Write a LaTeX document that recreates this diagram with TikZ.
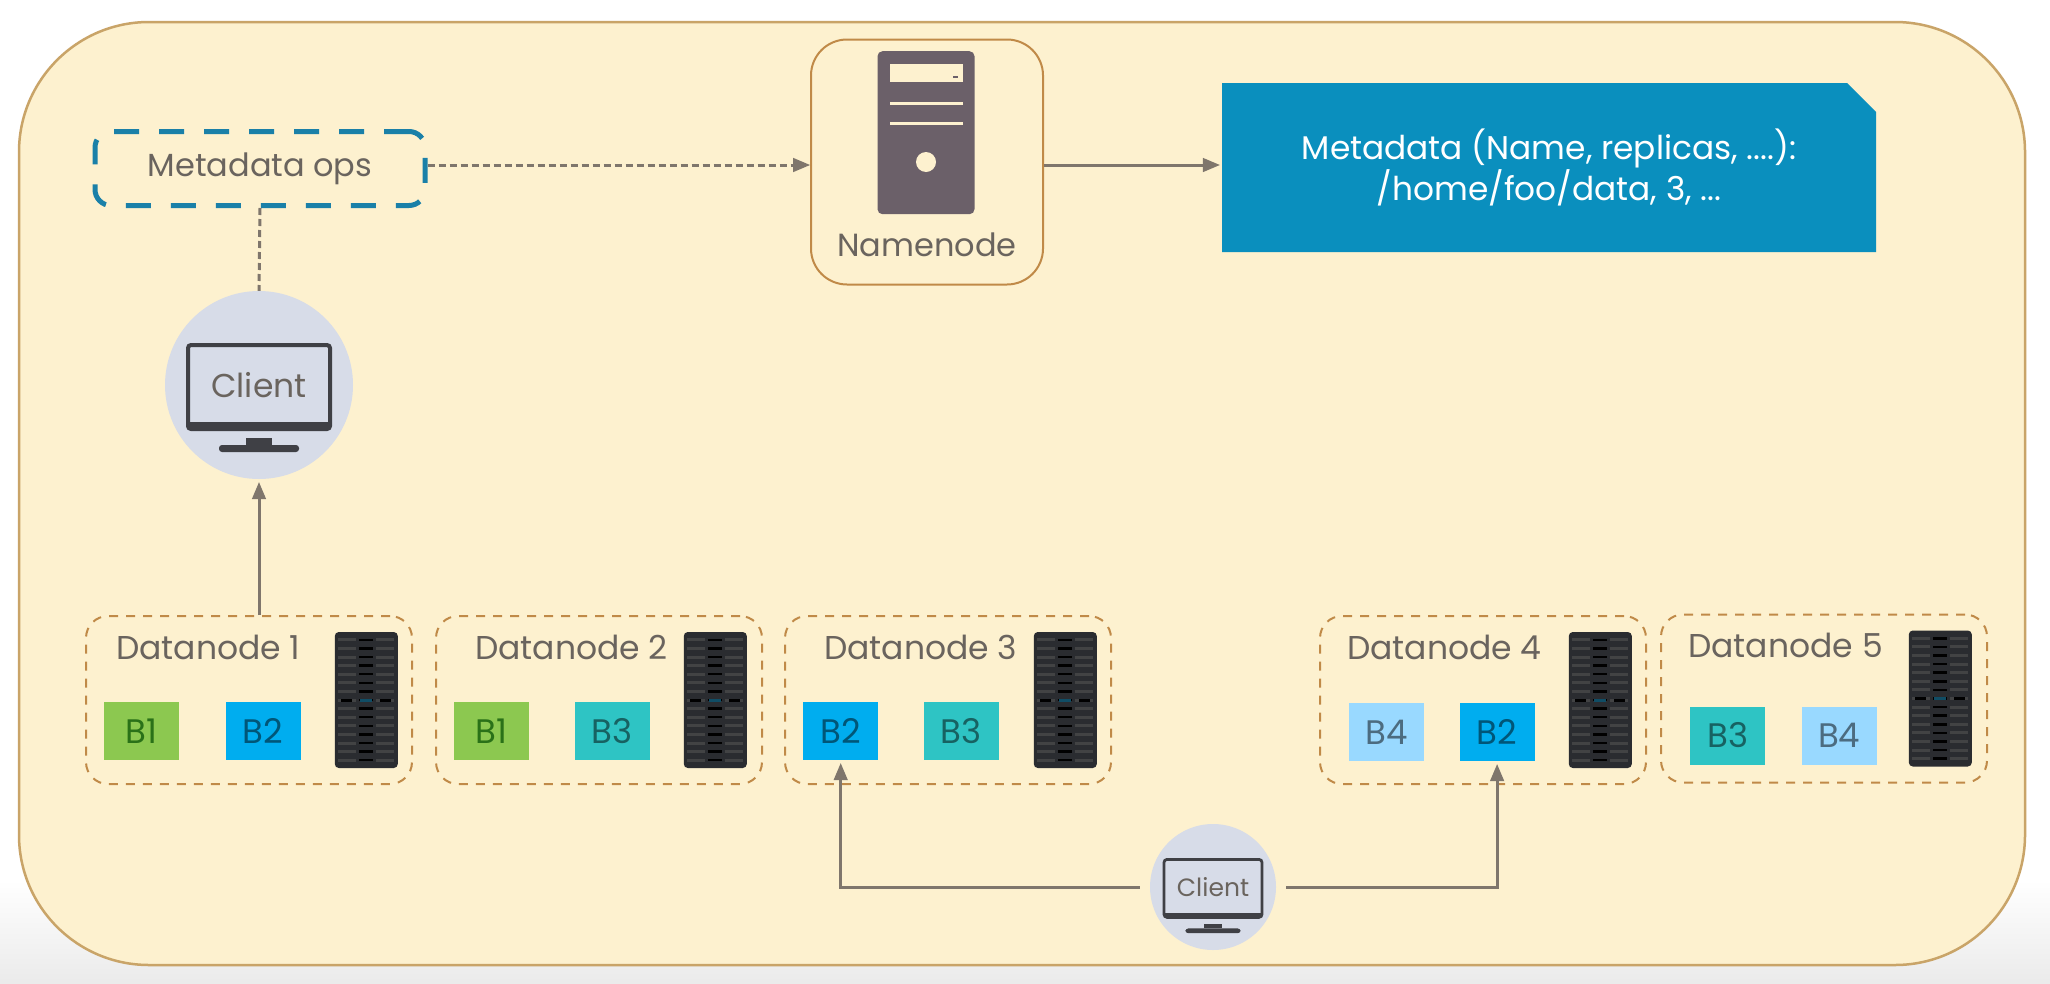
\documentclass[tikz,border=0pt]{standalone}
\usepackage{fontspec}
\setmainfont{Poppins}
\usepackage{tikz}
\usetikzlibrary{positioning,shapes,shapes.misc,arrows}
\definecolor{panelfill}{HTML}{FDF1CF}
\definecolor{panelline}{HTML}{C9A468}
\definecolor{dashtan}{HTML}{C08A48}
\definecolor{opsblue}{HTML}{1A80A8}
\definecolor{metablue}{HTML}{0A8FBE}
\definecolor{towergrey}{HTML}{6B6069}
\definecolor{textgrey}{HTML}{6A645E}
\definecolor{linegrey}{HTML}{7F766C}
\definecolor{clientfill}{HTML}{D7DCE8}
\definecolor{screenline}{HTML}{3F4045}
\definecolor{rackdark}{HTML}{2A2C30}
\definecolor{bgreen}{HTML}{8CC850}
\definecolor{bblue}{HTML}{00ADEF}
\definecolor{bteal}{HTML}{2EC4C4}
\definecolor{bsky}{HTML}{99D9FF}
\tikzstyle{panel}=[rectangle, draw=panelline, line width=2.5pt, fill=panelfill, rounded corners=130pt,
        minimum width=2006pt, minimum height=943pt]
\tikzstyle{namebox}=[rectangle, draw=dashtan, line width=2pt, rounded corners=36pt,
        minimum width=232pt, minimum height=245pt]
\tikzstyle{tower}=[rectangle, fill=towergrey, rounded corners=5pt, minimum width=97pt, minimum height=163pt]
\tikzstyle{metabox}=[chamfered rectangle, chamfered rectangle corners=north east, chamfered rectangle xsep=15pt,
        chamfered rectangle ysep=14pt, fill=metablue, text=white, align=center, font=\fontsize{32.8}{39}\selectfont,
        minimum width=654pt, minimum height=169pt, inner sep=0pt]
\tikzstyle{opsbox}=[rectangle, draw=opsblue, line width=5pt, dash pattern=on 25pt off 20pt, rounded corners=16pt,
        minimum width=330pt, minimum height=74pt, text=textgrey, font=\fontsize{32}{38}\selectfont]
\tikzstyle{client}=[circle, fill=clientfill, text=textgrey, inner sep=0pt]
\tikzstyle{datanode}=[rectangle, draw=dashtan, line width=2pt, dash pattern=on 9pt off 8pt, rounded corners=22pt,
        minimum width=326pt, minimum height=168pt]
\tikzstyle{dnlabel}=[text=textgrey, font=\fontsize{33}{38}\selectfont, inner sep=0pt]
\tikzstyle{block}=[rectangle, minimum width=75pt, minimum height=58pt, inner sep=0pt, font=\fontsize{34}{40}\selectfont]
\tikzstyle{rack}=[rectangle, fill=rackdark, rounded corners=4pt, minimum width=63pt, minimum height=136pt]
\tikzstyle{myarrow}=[->, >=triangle 45, line width=3pt, draw=linegrey]
\tikzstyle{dasharrow}=[myarrow, dash pattern=on 7pt off 4pt]
\newcommand{\rackdetail}[1]{
    \begin{scope}[shift={(#1.center)}]
        \foreach \k in {-7,...,7}{
            \draw[line width=3pt, draw=black!55!rackdark!80!white] (-28,\k*8.6) -- (-10,\k*8.6);
            \draw[line width=3pt, draw=black!55!rackdark!80!white] (10,\k*8.6) -- (28,\k*8.6);
            \draw[line width=2.5pt, draw=black] (-7,\k*8.6) -- (7,\k*8.6);
        }
        \draw[line width=3pt, draw=black] (-25,0) -- (-14,0);
        \draw[line width=3pt, draw=black] (14,0) -- (25,0);
        \draw[line width=3pt, draw=opsblue!60!black] (-6,0) -- (6,0);
    \end{scope}
}
\newcommand{\screen}[2]{
    \begin{scope}[shift={(#1.center)}, scale=#2]
        \draw[line width=#2*4pt, draw=screenline, rounded corners=3pt] (-71,-40) rectangle (71,44);
        \fill[screenline] (-71,37) rectangle (71,44);
        \fill[screenline] (-13,53) rectangle (13,60);
        \fill[screenline, rounded corners=3pt] (-40,60) rectangle (40,67);
    \end{scope}
}
\begin{document}
\begin{tikzpicture}[x=1pt, y=-1pt]
	\useasboundingbox (0,0) rectangle (2050,983);
	\fill[white] (0,0) rectangle (2050,983);
	\shade[top color=white, bottom color=black!8] (0,880) rectangle (2050,983);

	\node (Panel) [panel] at (1022,493.5) {};

	\node (Namenode) [namebox] at (927,162) {};
	\node (Tower) [tower, below=12.5pt of Namenode.north, xshift=-1pt] {};
	\fill[panelfill] ([xshift=-36pt,yshift=-13pt]Tower.north) rectangle ([xshift=37pt,yshift=-31pt]Tower.north);
	\fill[towergrey] ([xshift=27pt,yshift=-25pt]Tower.north) rectangle ([xshift=32pt,yshift=-27pt]Tower.north);
	\fill[panelfill] ([xshift=-36pt,yshift=-51pt]Tower.north) rectangle ([xshift=37pt,yshift=-54pt]Tower.north);
	\fill[panelfill] ([xshift=-36pt,yshift=-71pt]Tower.north) rectangle ([xshift=37pt,yshift=-74pt]Tower.north);
	\fill[panelfill] ([yshift=-111pt]Tower.north) circle (10pt);
	\node (NamenodeLabel) [dnlabel, below=18.5pt of Tower, xshift=1pt, font=\fontsize{32}{38}\selectfont] {Namenode};

	\node (Metadata) [metabox] at (1549,167.5)
        {Metadata (Name, replicas, ....):\\/home/foo/data, 3, ...};

	\node (MetadataOps) [opsbox] at (260,168.5) {Metadata ops};

	\node (ClientA) [client, minimum size=188pt, font=\fontsize{33}{38}\selectfont] at (259,385) {Client};
	\screen{ClientA}{1}

	\node (DatanodeOne) [datanode] at (249,700) {};
	\node (LabelOne) [dnlabel, right=31pt of DatanodeOne.west, yshift=53pt] {Datanode 1};
	\node (BlockOneA) [block, fill=bgreen, text=green!30!black!70!bgreen, right=19pt of DatanodeOne.west, yshift=-31pt] {B1};
	\node (BlockOneB) [block, fill=bblue, text=bblue!50!black, right=46pt of BlockOneA] {B2};
	\node (RackOne) [rack, left=15pt of DatanodeOne.east] {};
	\rackdetail{RackOne}

	\node (DatanodeTwo) [datanode, right=22pt of DatanodeOne] {};
	\node (LabelTwo) [dnlabel, right=40pt of DatanodeTwo.west, yshift=53pt] {Datanode 2};
	\node (BlockTwoA) [block, fill=bgreen, text=green!30!black!70!bgreen, right=19pt of DatanodeTwo.west, yshift=-31pt] {B1};
	\node (BlockTwoB) [block, fill=bteal, text=bteal!50!black, right=45pt of BlockTwoA] {B3};
	\node (RackTwo) [rack, left=16pt of DatanodeTwo.east] {};
	\rackdetail{RackTwo}

	\node (DatanodeThree) [datanode, right=21pt of DatanodeTwo] {};
	\node (LabelThree) [dnlabel, right=40pt of DatanodeThree.west, yshift=53pt] {Datanode 3};
	\node (BlockThreeA) [block, fill=bblue, text=bblue!50!black, right=19pt of DatanodeThree.west, yshift=-31pt] {B2};
	\node (BlockThreeB) [block, fill=bteal, text=bteal!50!black, right=45pt of BlockThreeA] {B3};
	\node (RackThree) [rack, left=15pt of DatanodeThree.east] {};
	\rackdetail{RackThree}

	\node (DatanodeFour) [datanode, right=207pt of DatanodeThree] {};
	\node (LabelFour) [dnlabel, right=28pt of DatanodeFour.west, yshift=53pt] {Datanode 4};
	\node (BlockFourA) [block, fill=bsky, text=bsky!50!black, right=30pt of DatanodeFour.west, yshift=-32pt] {B4};
	\node (BlockFourB) [block, fill=bblue, text=bblue!50!black, right=35pt of BlockFourA] {B2};
	\node (RackFour) [rack, left=15pt of DatanodeFour.east] {};
	\rackdetail{RackFour}

	\node (DatanodeFive) [datanode, right=13pt of DatanodeFour, yshift=1.5pt] {};
	\node (LabelFive) [dnlabel, right=28pt of DatanodeFive.west, yshift=53pt] {Datanode 5};
	\node (BlockFiveA) [block, fill=bteal, text=bteal!50!black, right=30pt of DatanodeFive.west, yshift=-37pt] {B3};
	\node (BlockFiveB) [block, fill=bsky, text=bsky!50!black, right=36pt of BlockFiveA] {B4};
	\node (RackFive) [rack, left=16pt of DatanodeFive.east] {};
	\rackdetail{RackFive}

	\node (ClientB) [client, minimum size=126pt, font=\fontsize{25}{30}\selectfont] at (1213,887) {Client};
	\screen{ClientB}{0.69}

\draw[dasharrow] ([yshift=3.5pt]MetadataOps.east) -- ([yshift=-3pt]Namenode.west);
\draw[dasharrow, -] (MetadataOps.south) -- (ClientA.north);
\draw[myarrow, shorten >=2pt] ([yshift=-3pt]Namenode.east) -- ([yshift=2.5pt]Metadata.west);
\draw[myarrow, shorten >=3pt] (DatanodeOne.north -| ClientA.south) -- (ClientA.south);
\draw[myarrow, shorten <=10pt, shorten >=3pt] (ClientB.west) -| (BlockThreeA.south);
\draw[myarrow, shorten <=10pt, shorten >=3pt] (ClientB.east) -| (BlockFourB.south);

\end{tikzpicture}
\end{document}
